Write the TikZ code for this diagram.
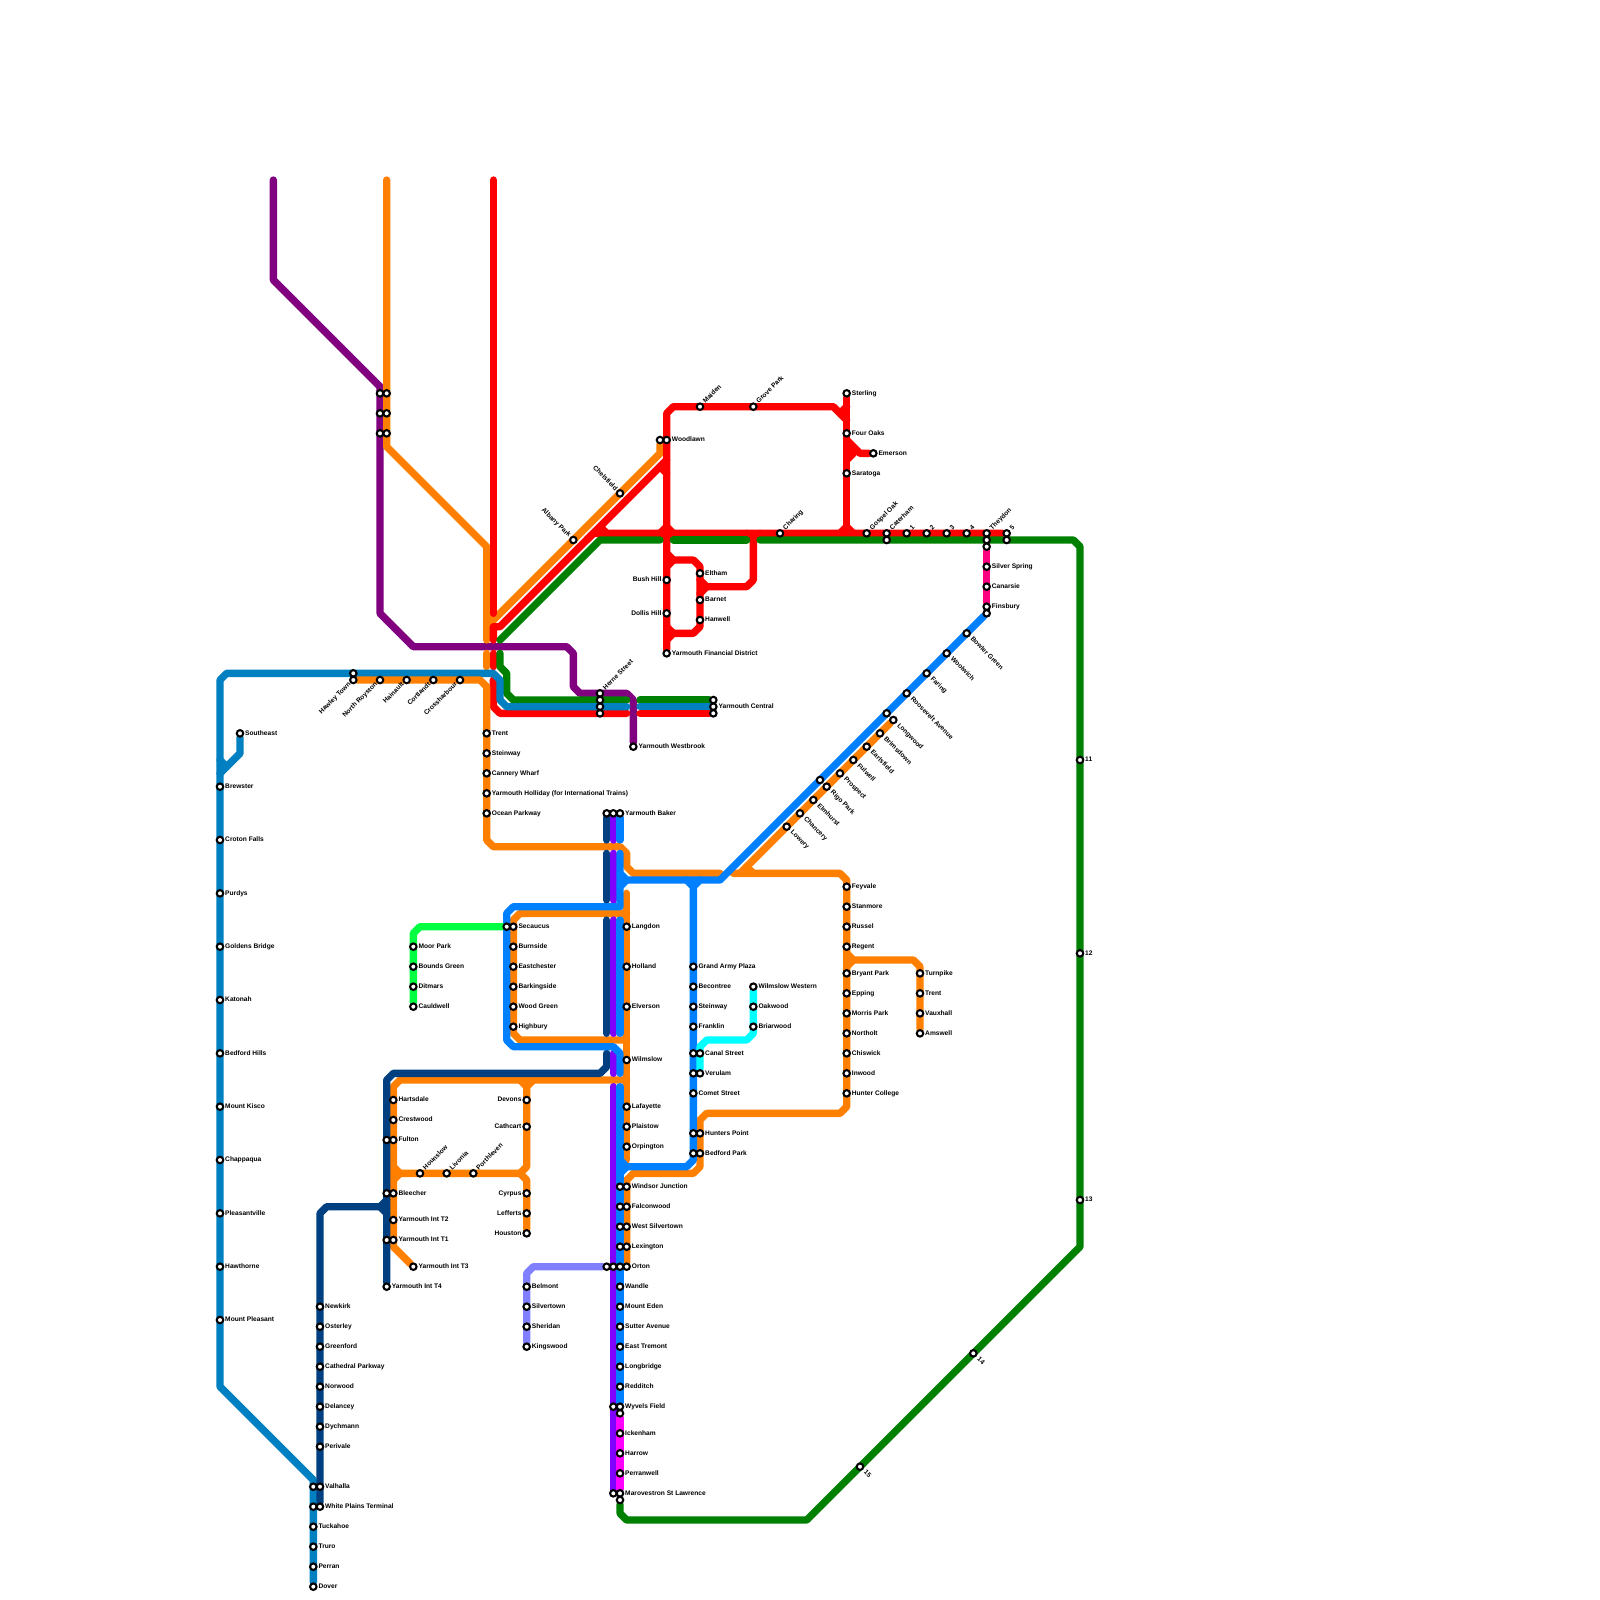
\documentclass[tikz,border=0pt]{standalone}
\usepackage{fontspec}
\setmainfont{Liberation Sans}
\definecolor{cOrange}{HTML}{FF8000}
\definecolor{cRed}{HTML}{FF0000}
\definecolor{cGreen}{HTML}{008000}
\definecolor{cSteel}{HTML}{0080C0}
\definecolor{cBlue}{HTML}{0080FF}
\definecolor{cPurple}{HTML}{800080}
\definecolor{cNavy}{HTML}{004080}
\definecolor{cViolet}{HTML}{8000FF}
\definecolor{cMagenta}{HTML}{FF00FF}
\definecolor{cPink}{HTML}{FF0080}
\definecolor{cCyan}{HTML}{00FFFF}
\definecolor{cLime}{HTML}{00FF40}
\definecolor{cLav}{HTML}{8080FF}
\pgfdeclarelayer{lines}
\pgfsetlayers{lines,main}
\tikzset{
  metro/.style={line width=2.2mm,line cap=round,line join=round},
  stn/.style={circle,draw=black,fill=white,line width=.62mm,minimum size=1.95mm,inner sep=0pt},
  lab/.style={inner sep=0pt,text height=3pt,text depth=0pt,font=\fontsize{5.65}{6.5}\selectfont\bfseries,text=black}
}
\newcommand{\stN}[3]{\node[stn] (#1) at (#2,#3) {};}
\newcommand{\stR}[4]{\stN{#1}{#2}{#3}\node[lab,anchor=west,xshift=1.5mm] (#1-l) at (#2,#3) {#4};}
\newcommand{\stL}[4]{\stN{#1}{#2}{#3}\node[lab,anchor=east,xshift=-1.5mm] (#1-l) at (#2,#3) {#4};}
\newcommand{\stU}[4]{\stN{#1}{#2}{#3}\node[lab,anchor=west,rotate=45,xshift=1.8mm] (#1-l) at (#2,#3) {#4};}
\newcommand{\stD}[4]{\stN{#1}{#2}{#3}\node[lab,anchor=west,rotate=-45,xshift=2mm] (#1-l) at (#2,#3) {#4};}
\newcommand{\stDL}[4]{\stN{#1}{#2}{#3}\node[lab,anchor=east,rotate=45,xshift=-1.5mm] (#1-l) at (#2,#3) {#4};}
\newcommand{\stUL}[4]{\stN{#1}{#2}{#3}\node[lab,anchor=east,rotate=-45,xshift=-1.5mm] (#1-l) at (#2,#3) {#4};}
\begin{document}
\begin{tikzpicture}[x=2mm,y=-2mm]
\useasboundingbox (0,0) rectangle (240,240);
% ---- stations
\stN{pa}{57}{59}\stN{pb}{57}{62}\stN{pc}{57}{65}
\stN{oa}{58}{59}\stN{ob}{58}{62}\stN{oc}{58}{65}
\stN{wda}{99}{66}\stR{woodlawn}{100}{66}{Woodlawn}
\stUL{chelsfield}{93}{74}{Chelsfield}
\stUL{albany}{86}{81}{Albany Park}
\stU{maiden}{105}{61}{Maiden}
\stU{grove}{113}{61}{Grove Park}
\stR{sterling}{127}{59}{Sterling}
\stR{fouroaks}{127}{65}{Four Oaks}
\stR{emerson}{131}{68}{Emerson}
\stR{saratoga}{127}{71}{Saratoga}
\stU{charing}{117}{80}{Charing}
\stU{gospel}{130}{80}{Gospel Oak}
\stU{caterham}{133}{80}{Caterham}
\stN{caterb}{133}{81}
\stU{n1}{136}{80}{1}\stU{n2}{139}{80}{2}\stU{n3}{142}{80}{3}\stU{n4}{145}{80}{4}
\stU{theydon}{148}{80}{Theydon}
\stN{theyb}{148}{81}\stN{theyc}{148}{82}
\stU{n5}{151}{80}{5}\stN{n5b}{151}{81}
\stR{silver}{148}{85}{Silver Spring}
\stR{canarsie}{148}{88}{Canarsie}
\stR{finsbury}{148}{91}{Finsbury}
\stN{finb}{148}{92}
\stD{bowler}{145}{95}{Bowler Green}
\stD{woolwich}{142}{98}{Woolwich}
\stD{faring}{139}{101}{Faring}
\stD{roosevelt}{136}{104}{Roosevelt Avenue}
\stN{blb}{133}{107}
\stN{blc}{123}{117}
\stD{longwood}{134}{108}{Longwood}
\stD{brimsdown}{132}{110}{Brimsdown}
\stD{earlsfield}{130}{112}{Earlsfield}
\stD{fulwell}{128}{114}{Fulwell}
\stD{prospect}{126}{116}{Prospect}
\stD{rigo}{124}{118}{Rigo Park}
\stD{elmhurst}{122}{120}{Elmhurst}
\stD{chancery}{120}{122}{Chancery}
\stD{lowery}{118}{124}{Lowery}
\stR{eltham}{105}{86}{Eltham}
\stR{barnet}{105}{90}{Barnet}
\stR{hanwell}{105}{93}{Hanwell}
\stL{bushhill}{100}{87}{Bush Hill}
\stL{dollis}{100}{92}{Dollis Hill}
\stR{yfd}{100}{98}{Yarmouth Financial District}
\stU{herne}{90}{104}{Herne Street}
\stN{hb}{90}{105}\stN{hc}{90}{106}\stN{hd}{90}{107}
\stN{ycg}{107}{105}\stR{ycentral}{107}{106}{Yarmouth Central}\stN{ycr}{107}{107}
\stR{ywest}{95}{112}{Yarmouth Westbrook}
\stN{hawb}{53}{101}
\stDL{hawley}{53}{102}{Hawley Town}
\stDL{royston}{57}{102}{North Royston}
\stDL{hainault}{61}{102}{Hainault}
\stDL{cortlandt}{65}{102}{Cortlandt}
\stDL{crossh}{69}{102}{Crossharbour}
\stR{trenta}{73}{110}{Trent}
\stR{steinwaya}{73}{113}{Steinway}
\stR{cannery}{73}{116}{Cannery Wharf}
\stR{holliday}{73}{119}{Yarmouth Holliday (for International Trains)}
\stR{ocean}{73}{122}{Ocean Parkway}
\stR{southeast}{36}{110}{Southeast}
\stR{brewster}{33}{118}{Brewster}
\stR{croton}{33}{126}{Croton Falls}
\stR{purdys}{33}{134}{Purdys}
\stR{goldens}{33}{142}{Goldens Bridge}
\stR{katonah}{33}{150}{Katonah}
\stR{bedfordh}{33}{158}{Bedford Hills}
\stR{kisco}{33}{166}{Mount Kisco}
\stR{chappaqua}{33}{174}{Chappaqua}
\stR{pleasantv}{33}{182}{Pleasantville}
\stR{hawthorne}{33}{190}{Hawthorne}
\stR{mtpleasant}{33}{198}{Mount Pleasant}
\stN{bknavy}{91}{122}\stN{bkviolet}{92}{122}\stR{ybaker}{93}{122}{Yarmouth Baker}
\stN{seca}{76}{139}\stR{secaucus}{77}{139}{Secaucus}
\stR{burnside}{77}{142}{Burnside}
\stR{eastch}{77}{145}{Eastchester}
\stR{barking}{77}{148}{Barkingside}
\stR{woodgreen}{77}{151}{Wood Green}
\stR{highbury}{77}{154}{Highbury}
\stR{moorpark}{62}{142}{Moor Park}
\stR{bounds}{62}{145}{Bounds Green}
\stR{ditmars}{62}{148}{Ditmars}
\stR{cauldwell}{62}{151}{Cauldwell}
\stR{langdon}{94}{139}{Langdon}
\stR{holland}{94}{145}{Holland}
\stR{elverson}{94}{151}{Elverson}
\stR{wilmslow}{94}{159}{Wilmslow}
\stR{lafayette}{94}{166}{Lafayette}
\stR{plaistow}{94}{169}{Plaistow}
\stR{orpington}{94}{172}{Orpington}
\stR{grandarmy}{104}{145}{Grand Army Plaza}
\stR{becontree}{104}{148}{Becontree}
\stR{steinwayb}{104}{151}{Steinway}
\stR{franklin}{104}{154}{Franklin}
\stN{cana}{104}{158}\stR{canal}{105}{158}{Canal Street}
\stN{vera}{104}{161}\stR{verulam}{105}{161}{Verulam}
\stR{comet}{104}{164}{Comet Street}
\stN{huna}{104}{170}\stR{hunters}{105}{170}{Hunters Point}
\stN{beda}{104}{173}\stR{bedford}{105}{173}{Bedford Park}
\stR{wwestern}{113}{148}{Wilmslow Western}
\stR{oakwood}{113}{151}{Oakwood}
\stR{briarwood}{113}{154}{Briarwood}
\stR{feyvale}{127}{133}{Feyvale}
\stR{stanmore}{127}{136}{Stanmore}
\stR{russel}{127}{139}{Russel}
\stR{regent}{127}{142}{Regent}
\stR{bryant}{127}{146}{Bryant Park}
\stR{epping}{127}{149}{Epping}
\stR{morris}{127}{152}{Morris Park}
\stR{northolt}{127}{155}{Northolt}
\stR{chiswick}{127}{158}{Chiswick}
\stR{inwood}{127}{161}{Inwood}
\stR{hunterc}{127}{164}{Hunter College}
\stR{turnpike}{138}{146}{Turnpike}
\stR{trentb}{138}{149}{Trent}
\stR{vauxhall}{138}{152}{Vauxhall}
\stR{amswell}{138}{155}{Amswell}
\stR{hartsdale}{59}{165}{Hartsdale}
\stR{crestwood}{59}{168}{Crestwood}
\stN{fula}{58}{171}\stR{fulton}{59}{171}{Fulton}
\stN{blea}{58}{179}\stR{bleecher}{59}{179}{Bleecher}
\stR{tb}{59}{183}{Yarmouth Int T2}
\stN{taa}{58}{186}\stR{ta}{59}{186}{Yarmouth Int T1}
\stR{tc}{62}{190}{Yarmouth Int T3}
\stR{td}{58}{193}{Yarmouth Int T4}
\stU{hounslow}{63}{176}{Hounslow}
\stU{livonia}{67}{176}{Livonia}
\stU{porthleven}{71}{176}{Porthleven}
\stL{devons}{79}{165}{Devons}
\stL{cathcart}{79}{169}{Cathcart}
\stL{cyrpus}{79}{179}{Cyrpus}
\stL{lefferts}{79}{182}{Lefferts}
\stL{houston}{79}{185}{Houston}
\stN{winb}{93}{178}\stR{windsor}{94}{178}{Windsor Junction}
\stN{falb}{93}{181}\stR{falcon}{94}{181}{Falconwood}
\stN{wsb}{93}{184}\stR{wsilver}{94}{184}{West Silvertown}
\stN{lexb}{93}{187}\stR{lexington}{94}{187}{Lexington}
\stN{ora}{91}{190}\stN{orb}{92}{190}\stN{orc}{93}{190}\stR{orton}{94}{190}{Orton}
\stR{wandle}{93}{193}{Wandle}
\stR{mteden}{93}{196}{Mount Eden}
\stR{sutter}{93}{199}{Sutter Avenue}
\stR{etremont}{93}{202}{East Tremont}
\stR{longbridge}{93}{205}{Longbridge}
\stR{redditch}{93}{208}{Redditch}
\stN{wya}{92}{211}\stR{wyvels}{93}{211}{Wyvels Field}\stN{wyc}{93}{212}
\stR{ickenham}{93}{215}{Ickenham}
\stR{harrow}{93}{218}{Harrow}
\stR{perranwell}{93}{221}{Perranwell}
\stN{maa}{92}{224}\stR{marove}{93}{224}{Marovestron St Lawrence}\stN{mac}{93}{225}
\stR{belmont}{79}{193}{Belmont}
\stR{silvertown}{79}{196}{Silvertown}
\stR{sheridan}{79}{199}{Sheridan}
\stR{kingswood}{79}{202}{Kingswood}
\stR{newkirk}{48}{196}{Newkirk}
\stR{osterley}{48}{199}{Osterley}
\stR{greenford}{48}{202}{Greenford}
\stR{cathedral}{48}{205}{Cathedral Parkway}
\stR{norwood}{48}{208}{Norwood}
\stR{delancey}{48}{211}{Delancey}
\stR{dychmann}{48}{214}{Dychmann}
\stR{perivale}{48}{217}{Perivale}
\stN{vala}{47}{223}\stR{valhalla}{48}{223}{Valhalla}
\stN{wpa}{47}{226}\stR{whiteplains}{48}{226}{White Plains Terminal}
\stR{tuckahoe}{47}{229}{Tuckahoe}
\stR{truro}{47}{232}{Truro}
\stR{perran}{47}{235}{Perran}
\stR{dover}{47}{238}{Dover}
\stR{n11}{162}{114}{11}
\stR{n12}{162}{143}{12}
\stR{n13}{162}{180}{13}
\stD{n14}{146}{203}{14}
\stD{n15}{129}{220}{15}
% ---- lines
\begin{pgfonlayer}{lines}
\fill[white] (0,0) rectangle (240,240);
% purple
\draw[metro,cPurple] (41,27) -- (41,42) -- (57,58) -- (57,92) -- (62,97) -- (85,97) -- (86,98) -- (86,103) -- (87,104) -- (94,104) -- (95,105) -- (ywest);
% orange north
\draw[metro,cOrange] (58,27) -- (58,67) -- (73,82) -- (73,96);
\draw[metro,cOrange] (73,98) -- (73,100);
\draw[metro,cOrange] (73,92) -- (74,93) -- (99,68) -- (wda);
\draw[metro,cOrange] (73,94) -- (74,93);
% red
\draw[metro,cRed] (74,27) -- (74,92);
\draw[metro,cRed] (74,96) -- (74,94) -- (75,94) -- (99,70) -- (100,69);
\draw[metro,cRed] (99,70) -- (100,71);
\draw[metro,cRed] (74,98) -- (74,100);
\draw[metro,cRed] (74,102) -- (74,106) -- (75,107) -- (94,107);
\draw[metro,cRed] (96,107) -- (ycr);
\draw[metro,cRed] (88,81) -- (89,80) -- (n5);
\draw[metro,cRed] (90,79) -- (91,80);
\draw[metro,cRed] (yfd) -- (100,62) -- (101,61) -- (125,61) -- (127,63);
\draw[metro,cRed] (99,80) -- (100,79) -- (101,80) -- (100,81) -- cycle;
\draw[metro,cRed] (126,62) -- (127,61);
\draw[metro,cRed] (sterling) -- (127,80);
\draw[metro,cRed] (126,80) -- (127,79) -- (128,80);
\draw[metro,cRed] (127,66) -- (129,68) -- (emerson);
\draw[metro,cRed] (127,69) -- (128,68) -- (127,67);
\draw[metro,cRed] (100,83) -- (101,84) -- (104,84) -- (105,85) -- (105,94) -- (104,95) -- (101,95) -- (100,96);
\draw[metro,cRed] (100,85) -- (101,84);
\draw[metro,cRed] (100,94) -- (101,95);
\draw[metro,cRed] (105,87) -- (106,88) -- (112,88) -- (113,87) -- (113,81) -- (112,80);
\draw[metro,cRed] (113,81) -- (114,80);
\draw[metro,cRed] (105,89) -- (106,88);
% green
\draw[metro,cGreen] (75,96) -- (90,81) -- (99,81);
\draw[metro,cGreen] (101,81) -- (112,81);
\draw[metro,cGreen] (114,81) -- (161,81) -- (162,82) -- (162,187) -- (121,228) -- (94,228) -- (93,227) -- (mac);
\draw[metro,cGreen] (75,98) -- (75,100) -- (76,101) -- (76,104) -- (77,105) -- (94,105);
\draw[metro,cGreen] (96,105) -- (ycg);
% steel
\draw[metro,cSteel] (dover) -- (47,222) -- (33,208) -- (33,102) -- (34,101) -- (74,101) -- (75,102) -- (75,105) -- (76,106) -- (94,106);
\draw[metro,cSteel] (96,106) -- (ycentral);
\draw[metro,cSteel] (southeast) -- (36,113) -- (33,116);
\draw[metro,cSteel] (33,114) -- (34,115);
% orange west row and trunk
\draw[metro,cOrange] (hawley) -- (72,102) -- (73,103) -- (73,126) -- (74,127) -- (93,127) -- (94,128) -- (94,130) -- (95,131) -- (108,131);
\draw[metro,cOrange] (94,134) -- (94,174);
\draw[metro,cOrange] (94,137) -- (78,137) -- (77,138) -- (77,155) -- (78,156) -- (94,156);
\draw[metro,cOrange] (orton) -- (94,177) -- (95,176) -- (104,176) -- (105,175) -- (105,168) -- (106,167) -- (126,167) -- (127,166) -- (127,132) -- (126,131) -- (110,131);
\draw[metro,cOrange] (111,131) -- (112,130) -- (longwood);
\draw[metro,cOrange] (112,130) -- (113,131);
\draw[metro,cOrange] (127,143) -- (128,144) -- (137,144) -- (138,145) -- (amswell);
\draw[metro,cOrange] (127,145) -- (128,144);
\draw[metro,cOrange] (94,162) -- (60,162) -- (59,163) -- (59,187) -- (tc);
\draw[metro,cOrange] (78,162) -- (79,163) -- (79,175) -- (78,176);
\draw[metro,cOrange] (80,162) -- (79,163);
\draw[metro,cOrange] (59,175) -- (60,176) -- (78,176) -- (79,177) -- (houston);
\draw[metro,cOrange] (59,177) -- (60,176);
% navy
\draw[metro,cNavy] (bknavy) -- (91,126);
\draw[metro,cNavy] (91,128) -- (91,135);
\draw[metro,cNavy] (91,138) -- (91,155);
\draw[metro,cNavy] (91,158) -- (91,160) -- (90,161) -- (59,161) -- (58,162) -- (td);
\draw[metro,cNavy] (whiteplains) -- (48,182) -- (49,181) -- (57,181) -- (58,180);
\draw[metro,cNavy] (57,181) -- (58,182);
% violet
\draw[metro,cViolet] (bkviolet) -- (92,126);
\draw[metro,cViolet] (92,128) -- (92,135);
\draw[metro,cViolet] (92,138) -- (92,155);
\draw[metro,cViolet] (92,158) -- (92,161);
\draw[metro,cViolet] (92,163) -- (maa);
% blue
\draw[metro,cBlue] (ybaker) -- (93,126);
\draw[metro,cBlue] (93,128) -- (93,136) -- (77,136) -- (76,137) -- (76,156) -- (77,157) -- (92,157) -- (93,158) -- (93,161);
\draw[metro,cBlue] (93,138) -- (93,155);
\draw[metro,cBlue] (93,163) -- (wyvels);
\draw[metro,cBlue] (93,131) -- (94,132) -- (108,132) -- (finb);
\draw[metro,cBlue] (93,133) -- (94,132);
\draw[metro,cBlue] (103,132) -- (104,133) -- (104,174) -- (103,175) -- (94,175) -- (93,174);
\draw[metro,cBlue] (105,132) -- (104,133);
\draw[metro,cBlue] (94,175) -- (93,176);
% short lines
\draw[metro,cMagenta] (wyc) -- (marove);
\draw[metro,cPink] (theyc) -- (finsbury);
\draw[metro,cCyan] (wwestern) -- (113,155) -- (112,156) -- (106,156) -- (105,157) -- (verulam);
\draw[metro,cLime] (cauldwell) -- (62,140) -- (63,139) -- (seca);
\draw[metro,cLav] (kingswood) -- (79,191) -- (80,190) -- (ora);
\end{pgfonlayer}
\end{tikzpicture}
\end{document}
